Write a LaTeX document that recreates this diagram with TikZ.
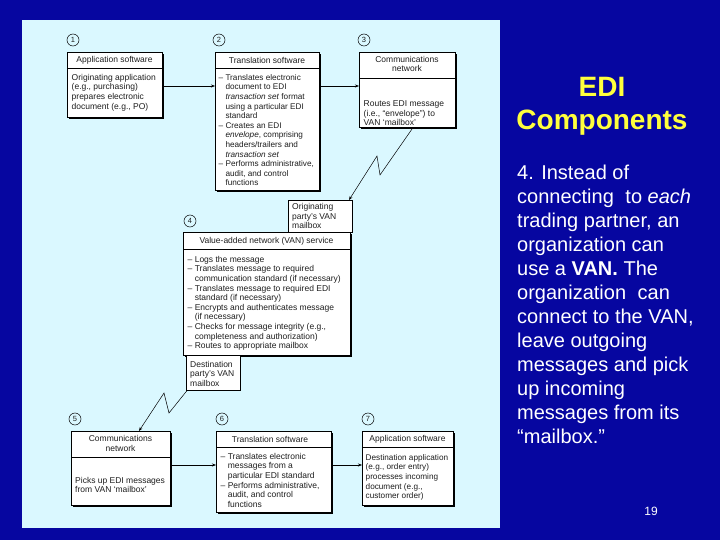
\documentclass[tikz,border=0pt]{standalone}
\usepackage{fontspec}
\setmainfont{Liberation Sans}
\usetikzlibrary{arrows.meta,shadows}
\definecolor{slidebg}{RGB}{6,6,160}
\definecolor{panel}{RGB}{218,248,255}
\definecolor{titleyellow}{RGB}{255,255,60}
\definecolor{ink}{RGB}{30,30,30}
\begin{document}
\begin{tikzpicture}[x=1pt,y=-1pt,
  box/.style={draw=black, line width=0.6pt, fill=white, anchor=north west, inner sep=0pt,
    general shadow={fill=black, shadow xshift=1.3pt, shadow yshift=-1.3pt}},
  plainbox/.style={draw=black, line width=0.6pt, fill=white, anchor=north west, inner sep=0pt},
  hdr/.style={font=\fontsize{8.5}{9.6}\selectfont, text=ink, align=center, inner sep=0pt},
  body/.style={font=\fontsize{8.5}{9.6}\selectfont, text=ink, align=left, anchor=north west, inner sep=0pt},
  tightbody/.style={body, font=\fontsize{8.2}{9.6}\selectfont},
  num/.style={circle, draw=black, line width=0.5pt, inner sep=0pt, minimum size=12pt,
    font=\fontsize{7.5}{8}\selectfont, text=ink},
  arr/.style={draw=black, line width=0.5pt, -{Stealth[length=4pt,width=3pt]}},
  divider/.style={draw=black, line width=0.6pt},
  slidetext/.style={font=\fontsize{20}{24}\selectfont, text=white, align=left, anchor=north west, inner sep=0pt},
  titletext/.style={font=\fontsize{28}{32}\selectfont\bfseries, text=titleyellow, anchor=base, inner sep=0pt}
]
\useasboundingbox (0,0) rectangle (720,540);
\fill[slidebg] (0,0) rectangle (720,540);
\fill[panel] (22,20) rectangle (500,528);

% number circles
\node[num] (n1) at (73,40) {1};
\node[num] (n2) at (219,40) {2};
\node[num] (n3) at (364,40) {3};
\node[num] (n4) at (190,221) {4};
\node[num] (n5) at (75,419) {5};
\node[num] (n6) at (222,419) {6};
\node[num] (n7) at (368,419) {7};

% box 1
\node[box, minimum width=95pt, minimum height=65pt] (b1) at (67,52) {};
\node[hdr] (h1) at (114.5,60) {Application software};
\draw[divider] (b1.west |- 0,68) -- (b1.east |- 0,68);
\node[body] (t1) at (71.5,73.3) {\strut Originating application\\(e.g., purchasing)\\prepares electronic\\document (e.g., PO)};

% box 2
\node[box, minimum width=104pt, minimum height=138pt] (b2) at (215,52) {};
\node[hdr] (h2) at (267,60) {Translation software};
\draw[divider] (b2.west |- 0,68) -- (b2.east |- 0,68);
\node[tightbody] (t2) at (218.5,73.3) {\strut -- Translates electronic\\
\phantom{-- }document to EDI\\
\phantom{-- }\textit{transaction set} format\\
\phantom{-- }using a particular EDI\\
\phantom{-- }standard\\
-- Creates an EDI\\
\phantom{-- }\textit{envelope}, comprising\\
\phantom{-- }headers/trailers and\\
\phantom{-- }\textit{transaction set}\\
-- Performs administrative,\\
\phantom{-- }audit, and control\\
\phantom{-- }functions};

% box 3
\node[box, minimum width=96pt, minimum height=75pt] (b3) at (359,52) {};
\node[hdr] (h3) at (407,64) {Communications\\network};
\draw[divider] (b3.west |- 0,78) -- (b3.east |- 0,78);
\node[body] (t3) at (363.5,99.8) {\strut Routes EDI message\\(i.e., “envelope”) to\\VAN ‘mailbox’};

% VAN box and mailboxes
\node[plainbox, minimum width=64pt, minimum height=32pt] (mb1) at (288,200) {};
\node[body] (tm1) at (292,202.5) {\strut Originating\\party’s VAN\\mailbox};
\node[box, minimum width=167pt, minimum height=123pt] (van) at (183,232) {};
\node[hdr] (hv) at (266.5,241) {Value-added network (VAN) service};
\draw[divider] (van.west |- 0,249) -- (van.east |- 0,249);
\node[body] (tv) at (187.5,255.3) {\strut -- Logs the message\\
-- Translates message to required\\
\phantom{-- }communication standard (if necessary)\\
-- Translates message to required EDI\\
\phantom{-- }standard (if necessary)\\
-- Encrypts and authenticates message\\
\phantom{-- }(if necessary)\\
-- Checks for message integrity (e.g.,\\
\phantom{-- }completeness and authorization)\\
-- Routes to appropriate mailbox};
\node[plainbox, minimum width=54pt, minimum height=35pt] (mb2) at (186,355) {};
\node[body] (tm2) at (190,360.3) {\strut Destination\\party’s VAN\\mailbox};

% box 5
\node[box, minimum width=99pt, minimum height=74pt] (b5) at (71,431) {};
\node[hdr] (h5) at (120.5,443.5) {Communications\\network};
\draw[divider] (b5.west |- 0,457) -- (b5.east |- 0,457);
\node[body] (t5) at (75,476.3) {\strut Picks up EDI messages\\from VAN ‘mailbox’};

% box 6
\node[box, minimum width=115pt, minimum height=81pt] (b6) at (216,431) {};
\node[hdr] (h6) at (270,439) {Translation software};
\draw[divider] (b6.west |- 0,447) -- (b6.east |- 0,447);
\node[body] (t6) at (220.5,452.3) {\strut -- Translates electronic\\
\phantom{-- }messages from a\\
\phantom{-- }particular EDI standard\\
-- Performs administrative,\\
\phantom{-- }audit, and control\\
\phantom{-- }functions};

% box 7
\node[box, minimum width=91pt, minimum height=74pt] (b7) at (362,431) {};
\node[hdr] (h7) at (407.5,439) {Application software};
\draw[divider] (b7.west |- 0,447) -- (b7.east |- 0,447);
\node[tightbody] (t7) at (365.5,453.3) {\strut Destination application\\(e.g., order entry)\\processes incoming\\document (e.g.,\\customer order)};

% connectors
\draw[arr] (b1.east |- 0,86) -- (b2.west |- 0,86);
\draw[arr] (b2.east |- 0,86) -- (b3.west |- 0,86);
\draw[arr] (b3.south -| 413,0) -- (380,175) -- (377,156) -- (mb1.north -| 349,0);
\draw[arr] (mb2.south -| 187,0) -- (169,413) -- (164,393) -- (b5.north -| 139,0);
\draw[arr] (b5.east |- 0,465) -- (b6.west |- 0,465);
\draw[arr] (b6.east |- 0,465) -- (b7.west |- 0,465);

% slide text
\node[titletext] (edi) at (602,97) {EDI};
\node[titletext] (comp) at (602,130) {Components};
\node[slidetext] (para) at (517,162.2) {\strut 4. Instead of\\
connecting\hspace{0.3em} to \textit{each}\\
trading partner, an\\
organization can\\
use a \textbf{VAN.} The\\
organization\hspace{0.3em} can\\
connect to the VAN,\\
leave outgoing\\
messages and pick\\
up incoming\\
messages from its\\
“mailbox.”};
\node[font=\fontsize{12}{14}\selectfont, text=white, anchor=base, inner sep=0pt] (pg) at (651,515) {19};
\end{tikzpicture}
\end{document}
